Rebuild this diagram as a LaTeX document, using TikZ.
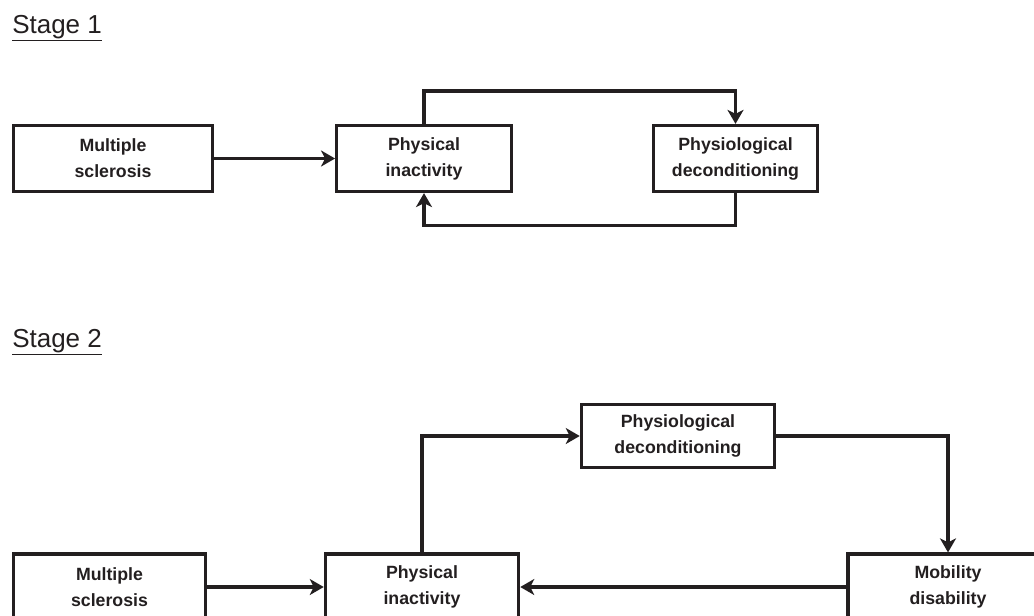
\documentclass[tikz,border=0pt]{standalone}
\usepackage{fontspec}
\setmainfont{Liberation Sans}
\usetikzlibrary{arrows.meta}
\definecolor{ink}{RGB}{35,31,32}
\tikzset{
  box/.style={draw=ink, line width=2.4pt, text=ink, font=\fontsize{13.3pt}{19.5pt}\selectfont\bfseries,
    align=center, minimum height=49.5pt, inner sep=0pt},
  arr/.style={draw=ink, line width=2.4pt, -{Stealth[length=10.5pt,width=12pt,inset=3pt]}},
  stagelbl/.style={anchor=base west, inner sep=0pt, text=ink, font=\fontsize{19.5pt}{22pt}\selectfont}
}
\begin{document}
\begin{tikzpicture}[x=0.75pt,y=-0.75pt]
\useasboundingbox (0,0) rectangle (1034,615);
% stage 1
\node[stagelbl] (lbl1) at (12,33) {\underline{Stage 1}};
\node[box, minimum width=149pt] (ms1) at (113,158.5) {Multiple\\sclerosis};
\node[box, minimum width=131pt] (pi1) at (424,158.5) {Physical\\inactivity};
\node[box, minimum width=123pt] (pd1) at (735.5,158.5) {Physiological\\deconditioning};
\draw[arr] (ms1) -- (pi1);
\draw[arr] (pi1.north) -- ++(0,-33) -| (pd1.north);
\draw[arr] (pd1.south) -- ++(0,32) -| (pi1.south);
% stage 2
\node[stagelbl] (lbl2) at (12,347) {\underline{Stage 2}};
\node[box, minimum width=144pt] (ms2) at (109.5,587) {Multiple\\sclerosis};
\node[box, minimum width=145pt] (pi2) at (422,587) {Physical\\inactivity};
\node[box, minimum width=145pt, minimum height=47pt] (pd2) at (678,436) {Physiological\\deconditioning};
\node[box, minimum width=150pt] (md2) at (948,587) {Mobility\\disability};
\draw[arr] (ms2) -- (pi2);
\draw[arr] (pi2.north) |- (pd2.west);
\draw[arr] (pd2.east) -| (md2.north);
\draw[arr] (md2) -- (pi2);
\end{tikzpicture}
\end{document}
